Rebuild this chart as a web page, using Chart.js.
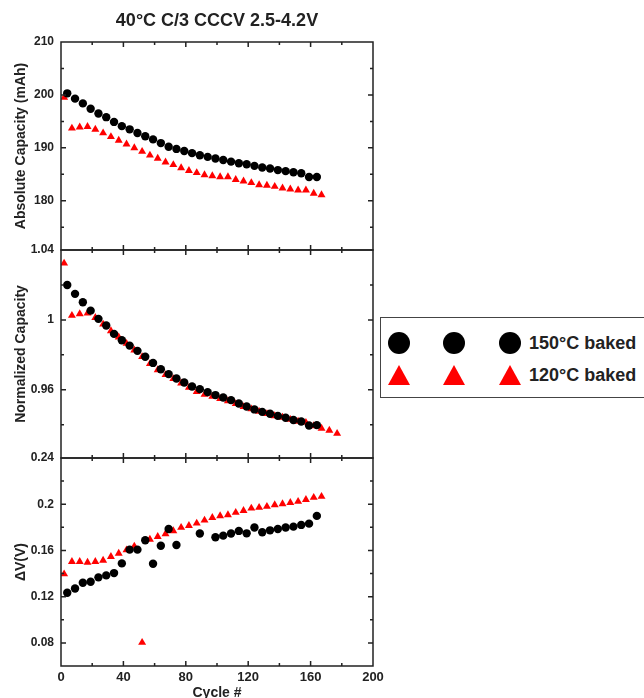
<!DOCTYPE html>
<html>
<head>
<meta charset="utf-8">
<script src="https://cdn.jsdelivr.net/npm/chart.js@4.4.0/dist/chart.umd.min.js"></script>
<style>
html,body{margin:0;padding:0;background:#fff;overflow:hidden;}
#wrap{position:relative;width:644px;height:698px;overflow:hidden;}
#c{position:absolute;left:0;top:0;}
#legend{position:absolute;left:380px;top:317px;width:340px;height:81px;border:1.5px solid #444;box-sizing:border-box;background:#fff;font-family:"Liberation Sans",Arial,sans-serif;font-weight:bold;font-size:18px;color:#222;}
.dot{position:absolute;width:22px;height:22px;border-radius:50%;background:#000;}
.tri{position:absolute;width:0;height:0;border-left:11px solid transparent;border-right:11px solid transparent;border-bottom:20px solid #f00;}
.lbl{position:absolute;left:148px;white-space:nowrap;line-height:18px;}
</style>
</head>
<body>
<div id="wrap">
<canvas id="c" width="644" height="698"></canvas>
<div id="legend">
  <div class="dot" style="left:7px;top:14px"></div>
  <div class="dot" style="left:62px;top:14px"></div>
  <div class="dot" style="left:118px;top:14px"></div>
  <div class="lbl" style="top:16px">150°C baked</div>
  <div class="tri" style="left:7px;top:47px"></div>
  <div class="tri" style="left:62px;top:47px"></div>
  <div class="tri" style="left:118px;top:47px"></div>
  <div class="lbl" style="top:48px">120°C baked</div>
</div>
</div>
<script>
// ---- data ----
const cycles150 = [4,9,14,19,24,29,34,39,44,49,54,59,64,69,74,79,84,89,94,99,104,109,114,119,124,129,134,139,144,149,154,159,164];
const cycles120 = [2,7,12,17,22,27,32,37,42,47,52,57,62,67,72,77,82,87,92,97,102,107,112,117,122,127,132,137,142,147,152,157,162,167,172,177];
const dvCycles150 = [4,9,14,19,24,29,34,39,44,49,54,59,64,69,74,89,99,104,109,114,119,124,129,134,139,144,149,154,159,164];

const absCap150 = [200.3,199.3,198.4,197.4,196.5,195.8,194.9,194.1,193.5,192.8,192.2,191.6,190.9,190.2,189.8,189.4,189.0,188.6,188.3,188.0,187.7,187.4,187.1,186.9,186.6,186.3,186.1,185.8,185.6,185.4,185.2,184.5,184.5];
const absCap120 = [199.5,193.7,193.9,194.0,193.5,192.8,192.1,191.4,190.7,190.0,189.3,188.6,188.0,187.3,186.8,186.2,185.7,185.3,184.9,184.7,184.5,184.5,184.0,183.7,183.4,183.0,182.9,182.7,182.4,182.2,182.0,182.0,181.4,181.1];

const normCap150 = [1.0200,1.0149,1.0101,1.0053,1.0006,0.9968,0.9920,0.9884,0.9853,0.9823,0.9789,0.9754,0.9718,0.9690,0.9665,0.9642,0.9619,0.9604,0.9587,0.9570,0.9556,0.9541,0.9522,0.9505,0.9488,0.9474,0.9463,0.9451,0.9440,0.9427,0.9419,0.9396,0.9398];
const normCap120 = [1.0324,1.0025,1.0034,1.0038,1.0013,0.9975,0.9937,0.9901,0.9865,0.9827,0.9789,0.9749,0.9714,0.9686,0.9663,0.9638,0.9613,0.9590,0.9573,0.9562,0.9549,0.9537,0.9520,0.9503,0.9490,0.9476,0.9463,0.9451,0.9442,0.9430,0.9419,0.9413,0.9394,0.9379,0.9368,0.9350];

const dV150 = [0.1234,0.1271,0.1320,0.1329,0.1367,0.1384,0.1404,0.1488,0.1607,0.1607,0.1688,0.1485,0.1641,0.1786,0.1647,0.1746,0.1714,0.1728,0.1746,0.1769,0.1748,0.1798,0.1757,0.1774,0.1786,0.1798,0.1806,0.1821,0.1832,0.1899];
const dV120 = [0.1396,0.1503,0.1503,0.1497,0.1503,0.1514,0.1546,0.1575,0.1604,0.1636,0.0803,0.1696,0.1719,0.1743,0.1769,0.1798,0.1815,0.1835,0.1861,0.1884,0.1899,0.1907,0.1928,0.1945,0.1965,0.1971,0.1980,0.1994,0.2003,0.2014,0.2023,0.2040,0.2058,0.2067];

const xTicks = [0,40,80,120,160,200];
const absTicks = [180,190,200,210];
const normTicks = [0.96,1,1.04];
const dvTicks = [0.08,0.12,0.16,0.2,0.24];

const titleText = '40°C C/3 CCCV 2.5-4.2V';
const xTitle = 'Cycle #';
const absTitle = 'Absolute Capacity (mAh)';
const normTitle = 'Normalized Capacity';
const dvTitle = 'ΔV(V)';

// ---- build ----
const pts = (xs, ys) => ys.map((v, i) => ({x: xs[i], y: v}));
const FONT = "'Liberation Sans', Arial, sans-serif";
Chart.defaults.font.family = FONT;
Chart.defaults.color = '#222';

const tickLists = {y1: absTicks, y2: normTicks, y3: dvTicks};
const fmt = v => String(+Number(v).toFixed(2));

function yScale(id, min, max, weight, title) {
  return {
    type: 'linear', position: 'left', stack: 'panels', stackWeight: 1, weight: weight,
    min: min, max: max,
    grid: {display: false, drawTicks: false, tickLength: 0},
    border: {display: false},
    afterBuildTicks: s => { s.ticks = tickLists[id].map(v => ({value: v})); },
    afterFit: s => { s.width = 61; },
    ticks: {font: {size: 12, weight: 'bold'}, color: '#222', padding: 7, callback: fmt, autoSkip: false},
    title: {display: true, text: title, font: {size: 14, weight: 'bold'}, color: '#222', padding: {top: 13, bottom: 0}}
  };
}

function mk(label, xs, ys, axis, black) {
  return {
    label: label, data: pts(xs, ys), yAxisID: axis, showLine: false,
    pointStyle: black ? 'circle' : 'triangle',
    pointRadius: black ? 4.2 : 4.6,
    pointBackgroundColor: black ? '#000' : '#f00',
    pointBorderColor: black ? '#000' : '#f00',
    pointBorderWidth: 0, pointHoverRadius: 4
  };
}

const framePlugin = {
  id: 'frame',
  afterDraw(chart) {
    const ctx = chart.ctx;
    const L = chart.chartArea.left, R = chart.chartArea.right;
    const xs = chart.scales.x;
    ctx.save();
    ctx.strokeStyle = '#222';
    ctx.lineWidth = 1.5;
    const xMinor = [];
    for (let i = 0; i < xTicks.length - 1; i++) xMinor.push((xTicks[i] + xTicks[i + 1]) / 2);
    ['y1', 'y2', 'y3'].forEach(id => {
      const s = chart.scales[id];
      const T = s.top, B = s.bottom;
      ctx.beginPath();
      ctx.rect(L, T, R - L, B - T);
      ctx.stroke();
      const maj = tickLists[id];
      const step = maj[1] - maj[0];
      const minors = [];
      for (let i = 0; i < maj.length - 1; i++) minors.push((maj[i] + maj[i + 1]) / 2);
      minors.push(maj[0] - step / 2);
      ctx.beginPath();
      const yt = (v, len) => {
        if (v < s.min || v > s.max) return;
        const py = s.getPixelForValue(v);
        if (Math.abs(py - T) < 1 || Math.abs(py - B) < 1) return;
        ctx.moveTo(L, py); ctx.lineTo(L + len, py);
        ctx.moveTo(R, py); ctx.lineTo(R - len, py);
      };
      maj.forEach(v => yt(v, 5));
      minors.forEach(v => yt(v, 3));
      const xt = (v, len) => {
        const px = xs.getPixelForValue(v);
        if (Math.abs(px - L) < 1 || Math.abs(px - R) < 1) return;
        ctx.moveTo(px, T); ctx.lineTo(px, T + len);
        ctx.moveTo(px, B); ctx.lineTo(px, B - len);
      };
      xTicks.forEach(v => xt(v, 5));
      xMinor.forEach(v => xt(v, 3));
      ctx.stroke();
    });
    ctx.restore();
  }
};

new Chart(document.getElementById('c'), {
  type: 'scatter',
  data: {
    datasets: [
      mk('150°C baked', cycles150, absCap150, 'y1', true),
      mk('120°C baked', cycles120, absCap120, 'y1', false),
      mk('150°C baked', cycles150, normCap150, 'y2', true),
      mk('120°C baked', cycles120, normCap120, 'y2', false),
      mk('150°C baked', dvCycles150, dV150, 'y3', true),
      mk('120°C baked', cycles120, dV120, 'y3', false)
    ]
  },
  options: {
    responsive: false, animation: false, devicePixelRatio: 1,
    layout: {padding: {left: 0, right: 271, top: 0, bottom: 0}},
    plugins: {
      legend: {display: false},
      tooltip: {enabled: false},
      title: {display: true, text: titleText, fullSize: false, color: '#222',
              font: {size: 18, weight: 'bold'}, padding: {top: 10, bottom: 10.4}}
    },
    scales: {
      x: {
        type: 'linear', position: 'bottom', min: 0, max: 200,
        grid: {display: false, drawTicks: false, tickLength: 0},
        border: {display: false},
        afterBuildTicks: s => { s.ticks = xTicks.map(v => ({value: v})); },
        afterFit: s => { s.height = 32; },
        ticks: {font: {size: 13, weight: 'bold'}, color: '#222', padding: 4, autoSkip: false, maxRotation: 0},
        title: {display: true, text: xTitle, font: {size: 14, weight: 'bold'}, color: '#222', padding: {top: 0, bottom: -4}}
      },
      y3: yScale('y3', 0.06, 0.24, 1, dvTitle),
      y2: yScale('y2', 0.921, 1.04, 2, normTitle),
      y1: yScale('y1', 170.7, 210, 3, absTitle)
    }
  },
  plugins: [framePlugin]
});
</script>
</body>
</html>
